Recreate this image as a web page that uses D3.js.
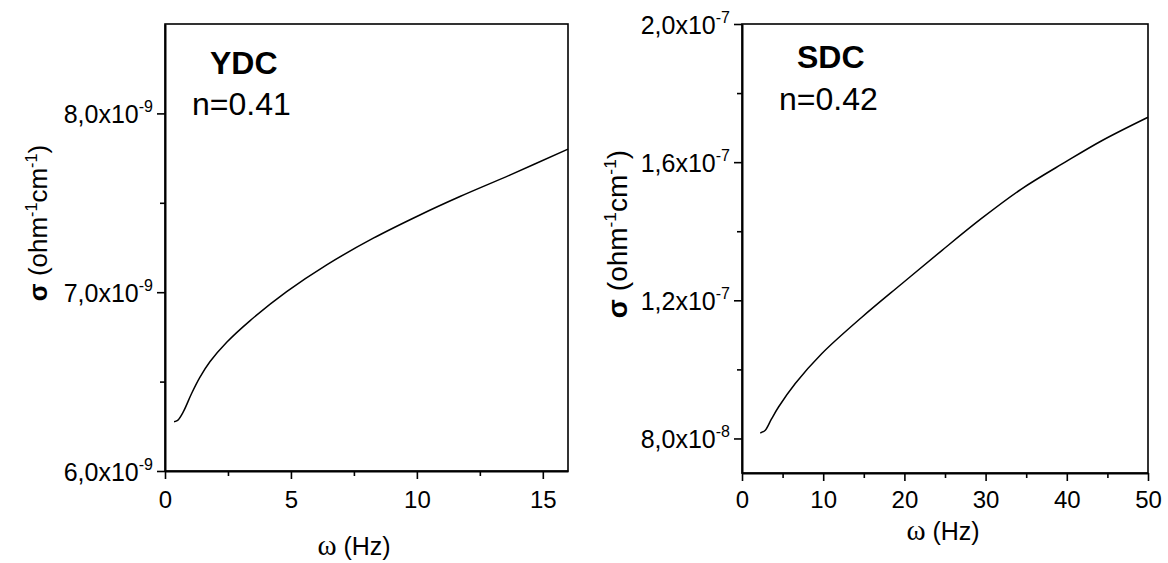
<!DOCTYPE html>
<html>
<head>
<meta charset="utf-8">
<script src="https://cdn.jsdelivr.net/npm/d3@7"></script>
<style>
  body { margin: 0; background: #fff; }
  text { font-family: "Liberation Sans", Arial, sans-serif; fill: #000; }
</style>
</head>
<body>
<div id="chart"></div>
<script>
// values
// YDC panel
var ydcFreq  = [0.36, 0.5, 0.73, 1.06, 1.39, 1.79, 2.45, 3.37, 4.83, 6.42, 8.27, 10.12, 11.71, 13.69, 16.0]
var ydcSigma = [6.276e-9, 6.283e-9, 6.332e-9, 6.435e-9, 6.525e-9, 6.612e-9, 6.72e-9, 6.84e-9,
                7.003e-9, 7.153e-9, 7.302e-9, 7.432e-9, 7.535e-9, 7.655e-9, 7.80e-9]
var ydcXTicks = [0, 5, 10, 15]
var ydcXMinor = [2.5, 7.5, 12.5]
var ydcYTicks = [6e-9, 7e-9, 8e-9]
var ydcYMinor = [6.5e-9, 7.5e-9]
var ydcYMant  = ["6,0x10", "7,0x10", "8,0x10"]
var ydcYExp   = ["-9", "-9", "-9"]

// SDC panel
var sdcFreq  = [2.25, 2.87, 3.6, 4.5, 6.56, 9.84, 14.76, 19.68, 24.6, 29.5, 34.4, 39.8, 44.3, 50]
var sdcSigma = [0.816e-7, 0.824e-7, 0.855e-7, 0.891e-7, 0.959e-7, 1.046e-7, 1.151e-7, 1.248e-7,
                1.344e-7, 1.437e-7, 1.522e-7, 1.600e-7, 1.662e-7, 1.730e-7]
var sdcXTicks = [0, 10, 20, 30, 40, 50]
var sdcXMinor = [5, 15, 25, 35, 45]
var sdcYTicks = [0.8e-7, 1.2e-7, 1.6e-7, 2.0e-7]
var sdcYMinor = [1.0e-7, 1.4e-7, 1.8e-7]
var sdcYMant  = ["8,0x10", "1,2x10", "1,6x10", "2,0x10"]
var sdcYExp   = ["-8", "-7", "-7", "-7"]

var width = 1168,
    height = 563

var svg = d3.select("#chart")
  .append("svg")
    .attr("width", width)
    .attr("height", height)

svg.append("rect")
  .attr("width", width)
  .attr("height", height)
  .attr("fill", "#fff")

function drawPanel(p) {
  var x = d3.scaleLinear().domain(p.xDomain).range([p.left, p.right])
  var y = d3.scaleLinear().domain(p.yDomain).range([p.bottom, p.top])

  // frame
  svg.append("rect")
    .attr("x", p.left)
    .attr("y", p.top)
    .attr("width", p.right - p.left)
    .attr("height", p.bottom - p.top)
    .attr("fill", "none")
    .attr("stroke", "#000")
    .attr("stroke-width", 1.6)

  // minor ticks
  svg.append("g")
    .attr("transform", "translate(0," + p.bottom + ")")
    .call(d3.axisBottom(x).tickValues(p.xMinor).tickSize(5).tickFormat(""))
    .call(g => g.select(".domain").remove())
    .selectAll("line").attr("stroke-width", 1.6)
  svg.append("g")
    .attr("transform", "translate(" + p.left + ",0)")
    .call(d3.axisLeft(y).tickValues(p.yMinor).tickSize(5).tickFormat(""))
    .call(g => g.select(".domain").remove())
    .selectAll("line").attr("stroke-width", 1.6)

  // major x axis
  var gx = svg.append("g")
    .attr("transform", "translate(0," + p.bottom + ")")
    .call(d3.axisBottom(x).tickValues(p.xTicks).tickSize(8).tickSizeOuter(0).tickPadding(6))
  gx.select(".domain").attr("stroke-width", 2)
  gx.selectAll("line").attr("stroke-width", 1.6)
  gx.selectAll("text")
    .attr("y", p.xTickY)
    .attr("dy", null)
    .attr("font-size", 24)
    .attr("font-family", "Liberation Sans, Arial, sans-serif")

  // major y axis, labels with superscripts
  var gy = svg.append("g")
    .attr("transform", "translate(" + p.left + ",0)")
    .call(d3.axisLeft(y).tickValues(p.yTicks).tickSize(8).tickSizeOuter(0))
  gy.select(".domain").attr("stroke-width", 2)
  gy.selectAll("line").attr("stroke-width", 1.6)
  gy.selectAll("text")
    .attr("x", -12)
    .attr("dy", 9.5)
    .attr("font-size", 25)
    .attr("font-family", "Liberation Sans, Arial, sans-serif")
    .text(null)
    .each(function(d, i) {
      var t = d3.select(this)
      t.append("tspan").text(p.yMant[i])
      t.append("tspan").attr("dy", -11).attr("font-size", 16).text(p.yExp[i])
    })

  // curve
  var line = d3.line()
    .x(function(d, i) { return x(p.freq[i]) })
    .y(function(d, i) { return y(p.sigma[i]) })
    .curve(d3.curveCatmullRom.alpha(0.5))

  svg.append("path")
    .datum(p.sigma)
    .attr("d", line)
    .attr("fill", "none")
    .attr("stroke", "#000")
    .attr("stroke-width", 1.5)

  // sample name and exponent
  svg.append("text")
    .attr("x", p.nameX).attr("y", p.nameY)
    .attr("font-size", 32)
    .attr("font-weight", "bold")
    .text(p.name)
  svg.append("text")
    .attr("x", p.nX).attr("y", p.nY)
    .attr("font-size", 32)
    .text(p.nText)

  // x axis title
  var xt = svg.append("text")
    .attr("x", p.xTitleX).attr("y", p.xTitleY)
    .attr("text-anchor", "middle")
    .attr("font-size", 25)
  xt.append("tspan").attr("font-family", "Liberation Serif, Times New Roman, serif").attr("font-size", 29).text("ω")
  xt.append("tspan").text(" (Hz)")

  // y axis title
  var s = p.yTitleSize
  var yt = svg.append("text")
    .attr("transform", "translate(" + p.yTitleX + "," + p.yTitleY + ") rotate(-90)")
    .attr("text-anchor", "middle")
    .attr("font-size", s)
  yt.append("tspan").attr("font-weight", "bold").text("σ")
  yt.append("tspan").text(" (ohm")
  yt.append("tspan").attr("dy", -s * 0.4).attr("font-size", s * 0.62).text("-1")
  yt.append("tspan").attr("dy", s * 0.4).text("cm")
  yt.append("tspan").attr("dy", -s * 0.4).attr("font-size", s * 0.62).text("-1")
  yt.append("tspan").attr("dy", s * 0.4).text(")")
}

drawPanel({
  left: 165, right: 568, top: 24, bottom: 471,
  xDomain: [0, 16], yDomain: [6e-9, 8.5e-9],
  xTicks: ydcXTicks, xMinor: ydcXMinor, yTicks: ydcYTicks, yMinor: ydcYMinor,
  yMant: ydcYMant, yExp: ydcYExp,
  freq: ydcFreq, sigma: ydcSigma,
  xTickY: 37,
  name: "YDC", nameX: 210, nameY: 74,
  nText: "n=0.41", nX: 192, nY: 115,
  xTitleX: 354, xTitleY: 555,
  yTitleX: 47, yTitleY: 223, yTitleSize: 26
})

drawPanel({
  left: 742, right: 1148, top: 24, bottom: 473,
  xDomain: [0, 50], yDomain: [0.7e-7, 2.0e-7],
  xTicks: sdcXTicks, xMinor: sdcXMinor, yTicks: sdcYTicks, yMinor: sdcYMinor,
  yMant: sdcYMant, yExp: sdcYExp,
  freq: sdcFreq, sigma: sdcSigma,
  xTickY: 35,
  name: "SDC", nameX: 797, nameY: 68,
  nText: "n=0.42", nX: 779, nY: 110,
  xTitleX: 943, xTitleY: 540,
  yTitleX: 627, yTitleY: 234, yTitleSize: 28
})
</script>
</body>
</html>
